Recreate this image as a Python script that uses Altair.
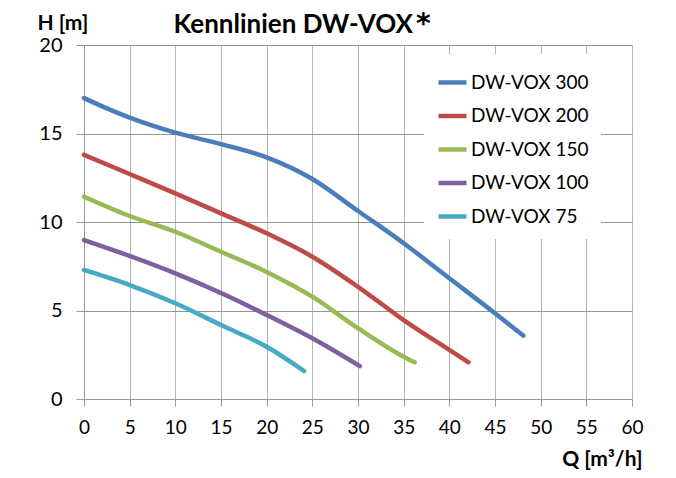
import altair as alt
import pandas as pd

models = ["DW-VOX 300", "DW-VOX 200", "DW-VOX 150", "DW-VOX 100", "DW-VOX 75"]
colors = ["#4a7ebb", "#be4b48", "#98b954", "#7d60a0", "#46aac5"]

q_300 = [0, 2.5, 5, 10, 15, 20, 25, 30, 35, 40, 45, 48.1]
h_300 = [17.0, 16.42, 15.9, 15.05, 14.4, 13.65, 12.43, 10.62, 8.8, 6.82, 4.84, 3.58]
q_200 = [0, 5, 10, 15, 20, 25, 30, 35, 40, 42.1]
h_200 = [13.79, 12.71, 11.62, 10.49, 9.36, 8.04, 6.34, 4.46, 2.77, 2.07]
q_150 = [0, 5, 10, 15, 20, 25, 30, 35, 36.2]
h_150 = [11.43, 10.34, 9.45, 8.32, 7.18, 5.78, 4.0, 2.39, 2.07]
q_100 = [0, 5, 10, 15, 20, 25, 30.2]
h_100 = [8.98, 8.08, 7.1, 5.99, 4.75, 3.43, 1.86]
q_75 = [0, 5, 10, 15, 20, 24.1]
h_75 = [7.29, 6.44, 5.41, 4.18, 2.95, 1.58]

x_ticks = list(range(0, 61, 5))
y_ticks = [0, 5, 10, 15, 20]

series = [(models[0], q_300, h_300), (models[1], q_200, h_200),
          (models[2], q_150, h_150), (models[3], q_100, h_100),
          (models[4], q_75, h_75)]
rows = []
for name, qs, hs in series:
    for i, (q, h) in enumerate(zip(qs, hs)):
        rows.append({"Modell": name, "Q": q, "H": h, "i": i})
df = pd.DataFrame(rows)

FONT = "Lato"

lines = alt.Chart(df).mark_line(strokeWidth=4.5, strokeCap="round", strokeJoin="round",
                                interpolate="monotone").encode(
    x=alt.X("Q:Q", scale=alt.Scale(domain=[0, 60], nice=False),
            axis=alt.Axis(values=x_ticks, title="Q [m³/h]", titleX=558, titleY=66,
                          titleAlign="right", titleBaseline="alphabetic",
                          titleFont=FONT, titleFontSize=21, titleFontWeight="bold",
                          titleColor="#000", labelFont=FONT, labelFontSize=19,
                          labelColor="#000", labelPadding=12, tickSize=7,
                          labelFlush=False, labelOverlap=False,
                          tickColor="#999", domainColor="#999",
                          gridColor="#b5b5b5")),
    y=alt.Y("H:Q", scale=alt.Scale(domain=[0, 20], nice=False),
            axis=alt.Axis(values=y_ticks, title="H [m]", titleAngle=0, titleX=-47,
                          titleY=-16, titleAlign="left", titleBaseline="alphabetic",
                          titleFont=FONT, titleFontSize=21, titleFontWeight="bold",
                          titleColor="#000", labelFont=FONT, labelFontSize=20,
                          labelColor="#000", labelPadding=14, tickSize=8,
                          labelFlush=False, labelOverlap=False,
                          tickColor="#999", domainColor="#999",
                          gridColor="#939393")),
    color=alt.Color("Modell:N", scale=alt.Scale(domain=models, range=colors),
                    legend=alt.Legend(title=None, orient="none", legendX=340, legendY=9,
                                      fillColor="white", padding=12,
                                      symbolType="stroke", symbolSize=784,
                                      symbolStrokeWidth=4.5, labelOffset=2,
                                      labelFont=FONT, labelFontSize=19,
                                      labelColor="#000", rowPadding=6.5)),
    order="i:Q",
)

title_df = pd.DataFrame({"t": ["Kennlinien DW-VOX"]})
title = alt.Chart(title_df).mark_text(font=FONT, fontSize=26, fontWeight="bold",
                                      align="right", baseline="alphabetic",
                                      color="#000").encode(
    text="t:N", x=alt.value(329), y=alt.value(-12))
star_df = pd.DataFrame({"t": ["*"]})
star = alt.Chart(star_df).mark_text(font="DejaVu Sans", fontSize=28, fontWeight="bold",
                                    align="left", baseline="alphabetic",
                                    color="#000").encode(
    text="t:N", x=alt.value(332), y=alt.value(-12))

chart = alt.layer(lines, title, star).properties(
    width=548, height=354,
    autosize=alt.AutoSizeParams(type="none"),
    padding={"left": 76, "top": 37, "right": 36, "bottom": 71},
).configure_view(stroke="#999", strokeWidth=1).configure(background="white")

chart.save("out.html", embed_options={"renderer": "svg", "actions": False})
